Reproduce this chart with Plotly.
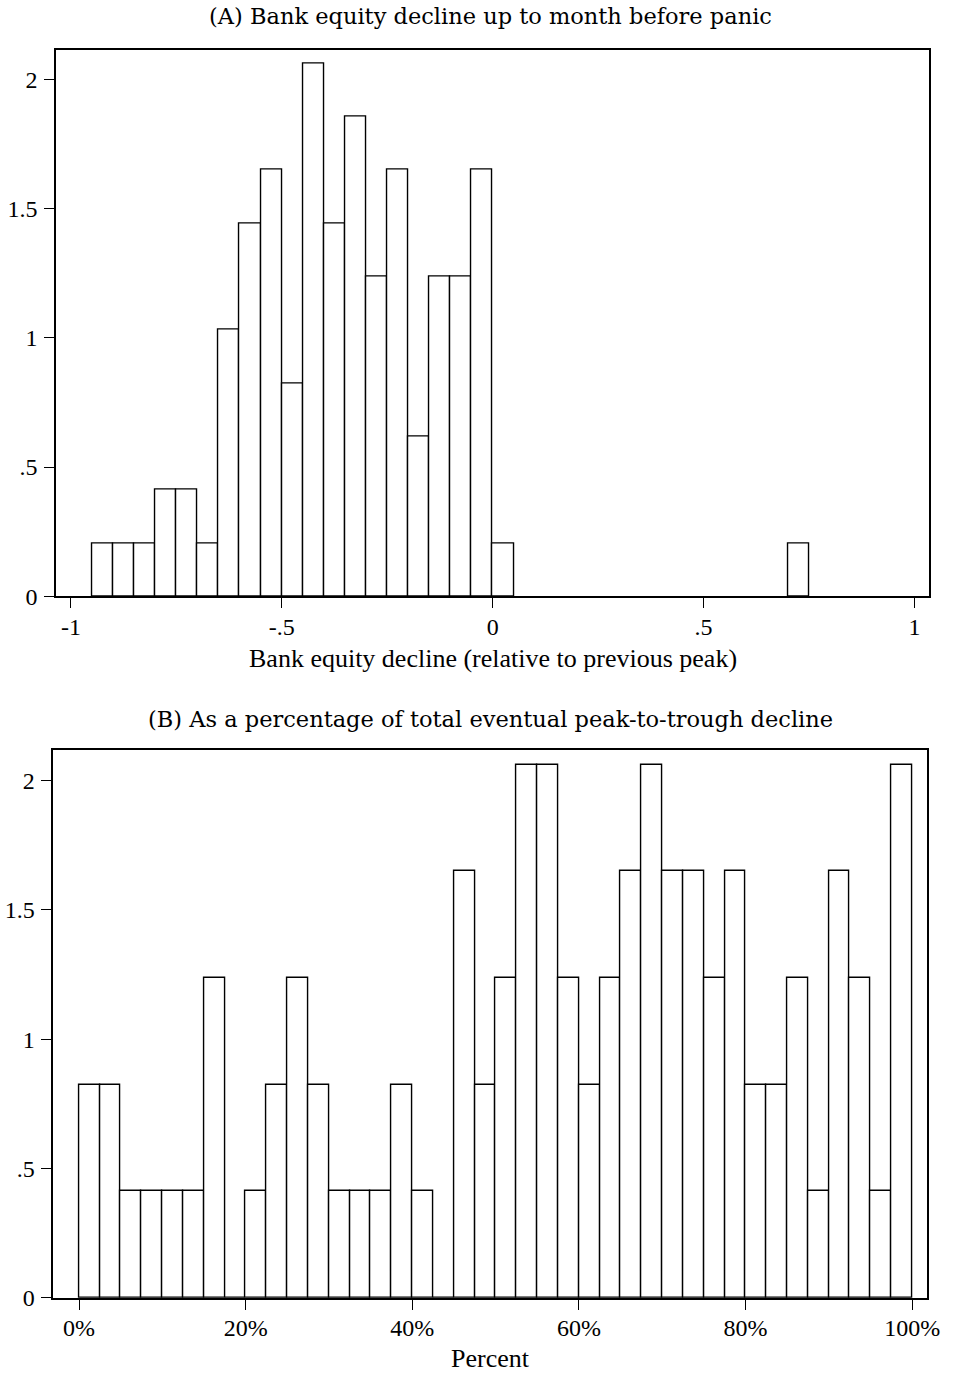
import numpy as np
import plotly.graph_objects as go

# Panel A: bank equity decline, bins of width 0.05 (left edges), counts per bin
a_left_edges = [-0.95, -0.90, -0.85, -0.80, -0.75, -0.70, -0.65, -0.60, -0.55, -0.50,
                -0.45, -0.40, -0.35, -0.30, -0.25, -0.20, -0.15, -0.10, -0.05, 0.00, 0.70]
a_counts = [1, 1, 1, 2, 2, 1, 5, 7, 8, 4, 10, 7, 9, 6, 8, 3, 6, 6, 8, 1, 1]
a_width = 0.05

# Panel B: share of eventual peak-to-trough decline, bins of width 0.025
b_left_edges = [i * 0.025 for i in range(40)]
b_counts = [2, 2, 1, 1, 1, 1, 3, 0, 1, 2, 3, 2, 1, 1, 1, 2, 1, 0, 4, 2,
            3, 5, 5, 3, 2, 3, 4, 5, 4, 4, 3, 4, 2, 2, 3, 1, 4, 3, 1, 5]
b_width = 0.025

y_tickvals = [0, 0.5, 1, 1.5, 2]
y_ticktext = ["0", ".5", "1", "1.5", "2"]
a_tickvals = [-1, -0.5, 0, 0.5, 1]
a_ticktext = ["-1", "-.5", "0", ".5", "1"]
b_tickvals = [0, 0.2, 0.4, 0.6, 0.8, 1.0]
b_ticktext = ["0%", "20%", "40%", "60%", "80%", "100%"]


def density(counts, width):
    counts = np.asarray(counts, dtype=float)
    return counts / (counts.sum() * width)


def bars(left_edges, counts, width, xa, ya):
    centers = np.asarray(left_edges) + width / 2
    return go.Bar(
        x=centers, y=density(counts, width), width=width,
        marker=dict(color="white", line=dict(color="black", width=1.4)),
        xaxis=xa, yaxis=ya, showlegend=False, hoverinfo="skip",
    )


W, H = 956, 1387
serif = "Liberation Serif"
title_font = dict(family="DejaVu Serif", size=22.5, color="black")
tick_font = dict(family=serif, size=24, color="black")
label_font = dict(family=serif, size=26, color="black")

fig = go.Figure()
fig.add_trace(bars(a_left_edges, a_counts, a_width, "x", "y"))
fig.add_trace(bars(b_left_edges, b_counts, b_width, "x2", "y2"))

axis_common = dict(
    showline=True, linecolor="black", linewidth=1.6, mirror=True,
    ticks="outside", ticklen=10, tickwidth=1.2, tickcolor="black",
    showgrid=False, zeroline=False, tickfont=tick_font,
)


def py(pix):
    return 1 - pix / H


fig.update_layout(
    width=W, height=H,
    margin=dict(l=0, r=0, t=0, b=0),
    paper_bgcolor="white", plot_bgcolor="white",
    bargap=0,
    xaxis=dict(domain=[57 / W, 942 / W], range=[-1.035, 1.035],
               tickvals=a_tickvals, ticktext=a_ticktext, anchor="y",
               ticklabelstandoff=-2, **axis_common),
    yaxis=dict(domain=[py(602), py(50)], range=[0, 2.115],
               tickvals=y_tickvals, ticktext=y_ticktext, anchor="x",
               ticklabelstandoff=2, **axis_common),
    xaxis2=dict(domain=[54 / W, 940 / W], range=[-0.031, 1.018],
                tickvals=b_tickvals, ticktext=b_ticktext, anchor="y2",
                ticklabelstandoff=-2, **axis_common),
    yaxis2=dict(domain=[py(1310), py(757)], range=[0, 2.119],
                tickvals=y_tickvals, ticktext=y_ticktext, anchor="x2",
                ticklabelstandoff=2, **axis_common),
)

annotations = [
    dict(text="(A) Bank equity decline up to month before panic",
         x=497 / W, y=py(16), font=title_font),
    dict(text="Bank equity decline (relative to previous peak)",
         x=500 / W, y=py(665), font=label_font),
    dict(text="(B) As a percentage of total eventual peak-to-trough decline",
         x=497 / W, y=py(726), font=title_font),
    dict(text="Percent", x=497 / W, y=py(1371), font=label_font),
]
for a in annotations:
    fig.add_annotation(xref="paper", yref="paper", showarrow=False,
                       xanchor="center", yanchor="middle", **a)

fig.write_html(
    "out.html",
    post_script="document.body.style.margin='0';document.body.style.overflow='hidden';",
)
